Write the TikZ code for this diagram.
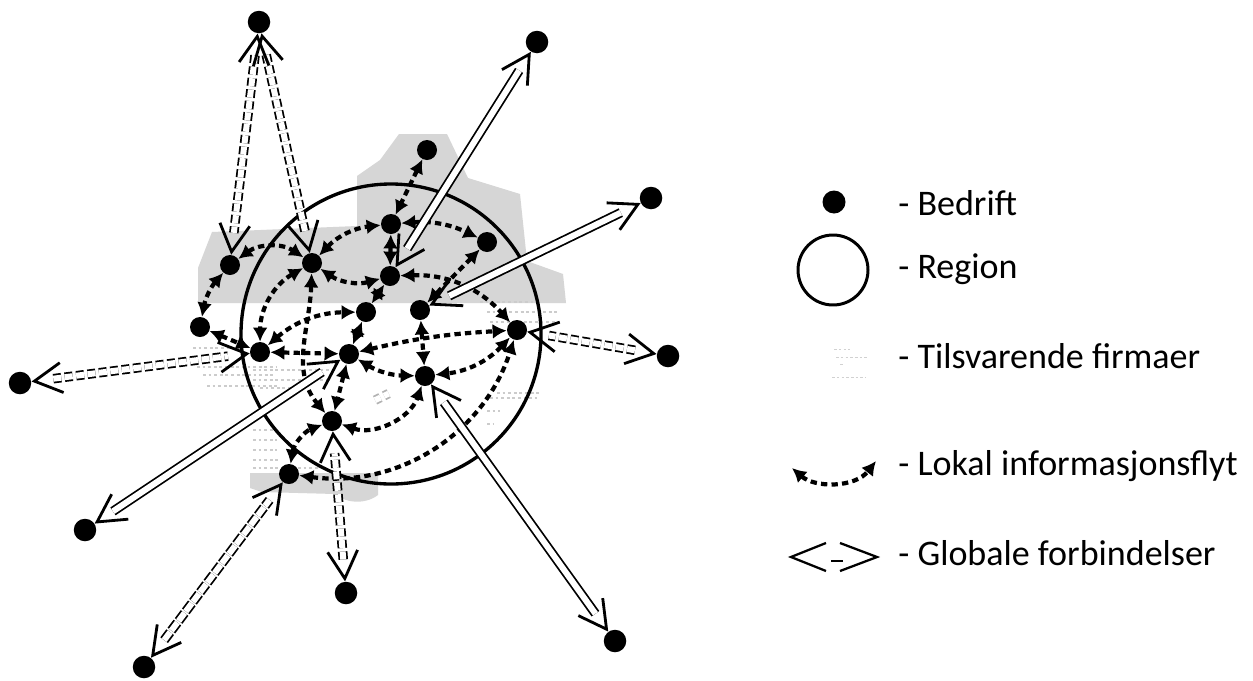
\documentclass[tikz,border=0pt]{standalone}
\usepackage{fontspec}
\setmainfont{Carlito}
\usetikzlibrary{arrows.meta}
\begin{document}
\begin{tikzpicture}[x=0.02cm,y=-0.02cm,
  dot/.style={circle,fill=black,inner sep=0pt,minimum size=0.4cm},
  odot/.style={circle,fill=black,inner sep=0pt,minimum size=0.45cm},
  loc/.style={draw=black,line width=2.4pt,dash pattern=on 3.6pt off 2.4pt,{Latex[length=8pt,width=8.5pt]}-{Latex[length=8pt,width=8.5pt]}},
  gshaft/.style={draw=black,line width=1pt,double=white,double distance=0.12cm,shorten <=0.44cm,shorten >=0.44cm},
  gdash/.style={gshaft,dash pattern=on 0.16cm off 0.07cm},
  gtip/.style={draw=black,line width=1.6pt,dash pattern=on 0pt off 1000pt,{Straight Barb[length=0.55cm,width=0.6cm]}-{Straight Barb[length=0.55cm,width=0.6cm]}},
  faint/.style={draw=black!20,line width=0.6pt,dash pattern=on 1.6pt off 1.6pt},
  legtext/.style={anchor=base west,font=\fontsize{20.5}{24}\selectfont,inner sep=0pt},
]
\useasboundingbox[fill=white] (0,0) rectangle (1253,680);

% gray areas (Tilsvarende firmaer)
\fill[black!16] (198,303) -- (198,268) -- (212,232) -- (357,226) -- (357,176) -- (380,160) -- (399,134) -- (447,134) -- (468,178) -- (520,194) -- (527,261) -- (563,274) -- (566,303) -- cycle;
\fill[black!16] (250,473) -- (378,473) -- (378,495) .. controls (365,505) and (345,503) .. (335,494) -- (262,492) -- (250,488) -- cycle;

% faint text lines
\foreach \a/\b/\y in {193/243/348, 197/277/367, 203/273/375, 207/277/386, 253/337/370, 253/330/380, 260/303/388,
  253/277/430, 253/277/440, 253/277/450, 253/280/460, 253/320/468, 487/560/312, 490/560/322, 497/540/393,
  490/537/398, 487/500/411, 487/493/424, 480/540/302}
  \draw[faint] (\a,\y) -- (\b,\y);

% region circle
\draw[line width=1.9pt] (391,334) circle[radius=150];

% firms
\node[odot] (O1) at (259,22) {};
\node[odot] (O2) at (537,42) {};
\node[odot] (O3) at (651,198) {};
\node[odot] (O4) at (668,356) {};
\node[odot] (O5) at (20,383) {};
\node[odot] (O6) at (85,530) {};
\node[odot] (O7) at (346,593) {};
\node[odot] (O8) at (144,667) {};
\node[odot] (O9) at (615,641) {};

\node[dot] (A) at (427,150) {};
\node[dot] (B) at (230,265) {};
\node[dot] (C) at (312,263) {};
\node[dot] (D) at (391,224) {};
\node[dot] (E) at (487,242) {};
\node[dot] (F) at (390,276) {};
\node[dot] (G) at (366,312) {};
\node[dot] (H) at (420,310) {};
\node[dot] (I) at (200,327) {};
\node[dot] (J) at (260,352) {};
\node[dot] (K) at (349,354) {};
\node[dot] (L) at (517,330) {};
\node[dot] (M) at (425,376) {};
\node[dot] (N) at (332,421) {};
\node[dot] (P) at (289,474) {};

% local information flows
\draw[loc] (A) -- (D);
\draw[loc] (D) -- (F);
\draw[loc] (D) to[bend left=15] (E);
\draw[loc] (C) to[bend left=20] (D);
\draw[loc] (B) to[bend left=35] (C);
\draw[loc] (B) to[bend right=15] (I);
\draw[loc] (I) -- (J);
\draw[loc] (C) to[bend right=30] (J);
\draw[loc] (C) to[out=-92,in=130] (N);
\draw[loc] (J) to[bend left=20] (G);
\draw[loc] (J) -- (K);
\draw[loc] (G) -- (K);
\draw[loc] (G) -- (F);
\draw[loc] (C) to[bend right=25] (F);
\draw[loc] (F) to[bend left=25] (L);
\draw[loc] (E) -- (H);
\draw[loc] (K) to[bend left=5] (L);
\draw[loc] (H) -- (M);
\draw[loc] (K) to[bend right=15] (M);
\draw[loc] (L) to[bend left=20] (M);
\draw[loc] (K) -- (N);
\draw[loc] (N) to[bend right=45] (M);
\draw[loc] (P) to[bend right=40] (L);
\draw[loc] (P) to[bend left=30] (N);

% global connections: shafts
\draw[gdash] (O1) -- (B);
\draw[gdash] (O1) -- (C);
\draw[gshaft] (O2) -- (F);
\draw[gshaft] (O3) -- (H);
\draw[gdash] (O4) -- (L);
\draw[gdash] (O5) -- (J);
\draw[gshaft] (O6) -- (K);
\draw[gdash] (O7) -- (N);
\draw[gshaft,dash pattern=on 0.2cm off 0.04cm] (O8) -- (P);
\draw[gshaft] (O9) -- (M);
\draw[gshaft,draw=black!30,dash pattern=on 0.12cm off 0.08cm,shorten <=0.75cm,shorten >=0.6cm] (N) -- (M);
% global connections: tips
\draw[gtip] (O1) -- (B);
\draw[gtip] (O1) -- (C);
\draw[gtip] (O2) -- (F);
\draw[gtip] (O3) -- (H);
\draw[gtip] (O4) -- (L);
\draw[gtip] (O5) -- (J);
\draw[gtip] (O6) -- (K);
\draw[gtip] (O7) -- (N);
\draw[gtip] (O8) -- (P);
\draw[gtip] (O9) -- (M);

% legend
\node[circle,fill=black,inner sep=0pt,minimum size=0.46cm] (lg1) at (834,202) {};
\node[legtext] (t1) at (898,215) {- Bedrift};
\node[circle,draw=black,line width=1.7pt,inner sep=0pt,minimum size=1.4cm] (lg2) at (833,270) {};
\node[legtext] (t2) at (898,278) {- Region};
\foreach \a/\b/\y in {834/850/349, 836/868/357, 840/843/364, 832/866/377}
  \draw[draw=black!18,line width=0.5pt,dash pattern=on 1.5pt off 1.2pt] (\a,\y) -- (\b,\y);
\node[legtext] (t3) at (898,368) {- Tilsvarende firmaer};
\coordinate (lk1) at (792,468);
\coordinate (lk2) at (876,461);
\draw[loc] (lk1) .. controls (815,488) and (855,488) .. (lk2);
\node[legtext] (t4) at (898,475) {- Lokal informasjonsflyt};
\draw[line width=1.3pt] (826,543) -- (791,557) -- (826,571);
\draw[line width=1.3pt] (840,543) -- (877,557) -- (840,571);
\draw[line width=0.9pt] (831,561) -- (843,561);
\node[legtext] (t5) at (898,565) {- Globale forbindelser};
\end{tikzpicture}
\end{document}
